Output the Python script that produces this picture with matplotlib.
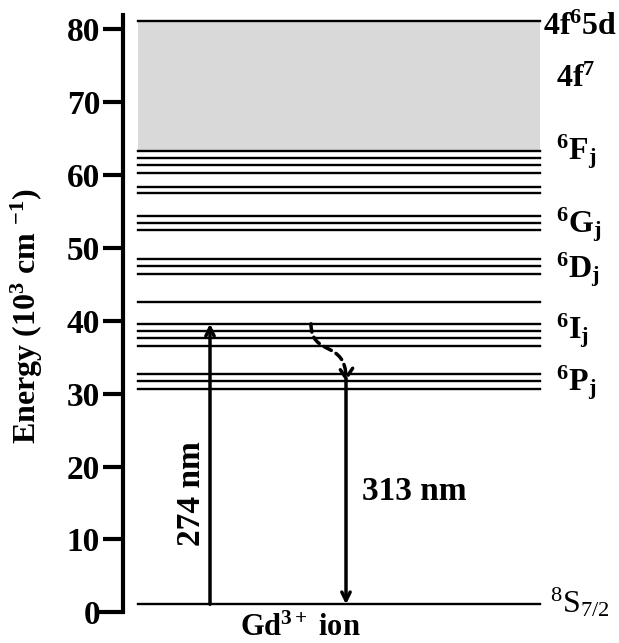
import matplotlib
matplotlib.use("Agg")
import matplotlib.pyplot as plt
from matplotlib.patches import FancyArrowPatch
from matplotlib.path import Path

plt.rcParams['mathtext.fontset'] = 'custom'
plt.rcParams['mathtext.rm'] = 'Liberation Serif'
plt.rcParams['mathtext.it'] = 'Liberation Serif:italic'
plt.rcParams['mathtext.bf'] = 'Liberation Serif:bold'
plt.rcParams['font.family'] = ['Liberation Serif', 'DejaVu Serif']

# ---- data (energies in 10^3 cm^-1) ----
band_bottom = 63.4
band_top = 81.1
levels = [63.3, 62.35, 61.35, 60.3, 58.4, 57.5,
          54.4, 53.5, 52.5,
          48.5, 47.5, 46.5,
          42.55,
          39.6, 38.6, 37.6, 36.6,
          32.7, 31.7, 30.7]
ground = 1.1
yticks = [0, 10, 20, 30, 40, 50, 60, 70, 80]

term_labels = [r"$\mathbf{4f^{6}5d}$", r"$\mathbf{4f^{7}}$", r"${}^{\mathbf{6}}\mathbf{F_{j}}$",
               r"${}^{\mathbf{6}}\mathbf{G_{j}}$", r"${}^{\mathbf{6}}\mathbf{D_{j}}$",
               r"${}^{\mathbf{6}}\mathbf{I_{j}}$", r"${}^{\mathbf{6}}\mathbf{P_{j}}$"]
term_y = [79.3, 72.1, 62.2, 52.2, 46.0, 37.6, 30.5]
term_x = [543, 556, 556, 556, 556, 556, 556]

exc_energy = 39.6     # 274 nm excitation
emi_energy = 31.7     # 313 nm emission
# ---------------------------------------

fig = plt.figure(figsize=(6.19, 6.43), dpi=100)
W, H = 619, 643
ppu = 7.285
y0 = 612.3
ymin, ymax = -3.0, 84.0
top_px = y0 - ymax * ppu
bot_px = y0 - ymin * ppu
ax = fig.add_axes([123 / W, (H - bot_px) / H, (W - 123) / W, (bot_px - top_px) / H])
ax.set_xlim(123, 619)
ax.set_ylim(ymin, ymax)

for s in ['top', 'right', 'bottom']:
    ax.spines[s].set_visible(False)
ax.spines['left'].set_linewidth(3)
ax.spines['left'].set_bounds(0, 82)
ax.set_xticks([])
ax.set_yticks(yticks)
ax.tick_params(axis='y', length=14.5, width=3, labelsize=24, pad=2)
ax.yaxis.get_major_ticks()[0].tick1line.set_markersize(19)
for lab in ax.get_yticklabels():
    lab.set_fontweight('bold')

xl, xr = 138, 540
ax.fill_between([xl, xr], band_bottom, band_top, color='#d9d9d9', lw=0)
ax.plot([xl, xr], [band_top, band_top], color='black', lw=1.7)
for e in levels:
    ax.plot([xl, xr], [e, e], color='black', lw=1.7)
ax.plot([xl, xr], [ground, ground], color='black', lw=1.7)

# excitation arrow
ax.annotate('', xy=(210, exc_energy), xytext=(210, ground),
            arrowprops=dict(arrowstyle='->,head_length=0.6,head_width=0.3', lw=2.5,
                            color='black', shrinkA=0, shrinkB=0))
# emission arrow
ax.annotate('', xy=(346, ground), xytext=(346, emi_energy + 0.3),
            arrowprops=dict(arrowstyle='->,head_length=0.6,head_width=0.3', lw=2.5,
                            color='black', shrinkA=0, shrinkB=0))
# non-radiative relaxation (dashed S-curve)
path = Path([(311, exc_energy), (311, 35.0), (346, 37.5), (346, emi_energy)],
            [Path.MOVETO, Path.CURVE4, Path.CURVE4, Path.CURVE4])
p = FancyArrowPatch(path=path, arrowstyle='->,head_length=6,head_width=4',
                    linestyle=(0, (2.4, 1.6)), lw=2.5, color='black',
                    mutation_scale=1.2, transform=ax.transData)
ax.add_patch(p)

for t, x, y in zip(term_labels, term_x, term_y):
    ax.text(x, y, t, fontsize=23, ha='left', va='baseline', clip_on=False)
ax.text(550, 0.0, r"${}^{8}\mathrm{S}_{7/2}$", fontsize=23, ha='left', va='baseline',
        clip_on=False)

ax.text(362, 15.4, "313 nm", fontsize=24, fontweight='bold', ha='left', va='baseline')
ax.text(191, 16.3, "274 nm", fontsize=24, fontweight='bold', ha='center', va='center',
        rotation=90)
ax.text(300, -3.2, r"Gd$^{\mathbf{3+}}$ ion", fontsize=22, fontweight='bold',
        ha='center', va='baseline', clip_on=False)
fig.text(27 / W, 1 - 316 / H, r"Energy (10$^{\mathbf{3}}$ cm $^{\mathbf{-1}}$)", fontsize=23,
         fontweight='bold', rotation=90, ha='center', va='center')

fig.savefig('out.png', dpi=100)
